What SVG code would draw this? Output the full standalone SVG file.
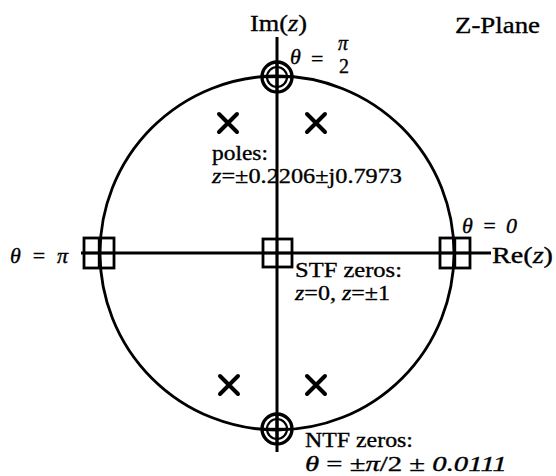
<svg xmlns="http://www.w3.org/2000/svg" width="556" height="476" viewBox="0 0 556 476">
<style>
text{font-family:"Liberation Serif","Times New Roman",serif;fill:#000;stroke:#000;stroke-width:0.35}
.big{font-size:24px}
.lbl{font-size:22px}
.it{font-style:italic}
.ln{stroke:#000;fill:none}
.box{stroke:#000;stroke-width:2.8;fill:none}
.pole{stroke:#000;stroke-width:4;stroke-linecap:round}
</style>
<rect width="556" height="476" fill="#fff"/>
<g id="connectors">
<circle class="ln" cx="277" cy="253" r="177" stroke-width="2.8"/>
<line class="ln" x1="277" y1="37" x2="277" y2="452" stroke-width="3"/>
<line class="ln" x1="81" y1="253" x2="491" y2="253" stroke-width="3"/>
</g>
<g id="axis-im"><text class="big" x="250" y="31" textLength="57" lengthAdjust="spacingAndGlyphs">Im(<tspan class="it">z</tspan>)</text></g>
<g id="axis-re"><text class="big" x="492" y="263" textLength="61" lengthAdjust="spacingAndGlyphs">Re(<tspan class="it">z</tspan>)</text></g>
<g id="title"><text class="big" x="455" y="33" textLength="85" lengthAdjust="spacingAndGlyphs">Z-Plane</text></g>
<g id="zero-top">
<circle cx="277" cy="77" r="15" class="ln" stroke-width="3.4" fill="#fff"/>
<circle cx="277" cy="77" r="10" class="ln" stroke-width="2.2"/>
<line class="ln" x1="262" y1="77" x2="292" y2="77" stroke-width="2.4"/>
<line class="ln" x1="277" y1="62" x2="277" y2="92" stroke-width="3"/>
<text class="lbl it" x="290" y="64" font-size="24">θ</text>
<text class="lbl" x="311" y="66">=</text>
<text class="it" x="338" y="50" font-size="20">π</text>
<text x="339" y="73" font-size="20">2</text>
</g>
<g id="zero-bottom">
<circle cx="277" cy="429" r="15" class="ln" stroke-width="3.4" fill="#fff"/>
<circle cx="277" cy="429" r="10" class="ln" stroke-width="2.2"/>
<line class="ln" x1="262" y1="429" x2="292" y2="429" stroke-width="2.4"/>
<line class="ln" x1="277" y1="414" x2="277" y2="444" stroke-width="3"/>
<text x="305" y="447" font-size="21" textLength="108" lengthAdjust="spacingAndGlyphs">NTF zeros:</text>
<text x="305" y="471" font-size="21" textLength="202" lengthAdjust="spacingAndGlyphs"><tspan class="it">θ</tspan> = ±<tspan class="it">π</tspan>/2 ± <tspan class="it">0.0111</tspan></text>
</g>
<g id="stf-left">
<rect class="box" x="84" y="238" width="30" height="30" fill="#fff"/>
<line class="ln" x1="99" y1="238" x2="99" y2="268" stroke-width="2.4"/>
<line class="ln" x1="84" y1="253" x2="114" y2="253" stroke-width="2.4"/>
<text class="lbl" x="10" y="263" textLength="58" lengthAdjust="spacing"><tspan class="it">θ</tspan> = <tspan class="it">π</tspan></text>
</g>
<g id="stf-right">
<rect class="box" x="440" y="238" width="30" height="30" fill="#fff"/>
<line class="ln" x1="455" y1="238" x2="455" y2="268" stroke-width="2.4"/>
<line class="ln" x1="440" y1="253" x2="470" y2="253" stroke-width="2.4"/>
<text class="lbl it" x="462" y="233" textLength="55" lengthAdjust="spacing">θ = 0</text>
</g>
<g id="stf-center">
<rect class="box" x="263" y="239" width="29" height="28" fill="#fff"/>
<line class="ln" x1="277" y1="239" x2="277" y2="267" stroke-width="2.4"/>
<line class="ln" x1="263" y1="253" x2="292" y2="253" stroke-width="2.4"/>
<text class="lbl" x="295" y="277" textLength="107" lengthAdjust="spacingAndGlyphs">STF zeros:</text>
<text class="lbl" x="295" y="300" textLength="95" lengthAdjust="spacingAndGlyphs"><tspan class="it">z</tspan>=0, <tspan class="it">z</tspan>=±1</text>
</g>
<g id="poles">
<path class="pole" d="M219 114L237 132M237 114L219 132"/>
<path class="pole" d="M307 114L325 132M325 114L307 132"/>
<path class="pole" d="M220 376L238 394M238 376L220 394"/>
<path class="pole" d="M307 376L325 394M325 376L307 394"/>
<text class="lbl" x="212" y="160" textLength="56" lengthAdjust="spacingAndGlyphs">poles:</text>
<text class="lbl" x="212" y="183" textLength="190" lengthAdjust="spacingAndGlyphs"><tspan class="it">z</tspan>=±0.2206±j0.7973</text>
</g>
</svg>
